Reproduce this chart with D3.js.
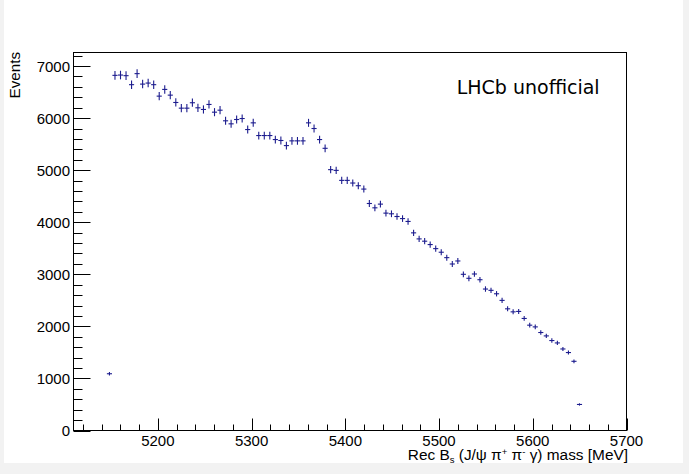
<!DOCTYPE html>
<html>
<head>
<meta charset="utf-8">
<script src="https://cdn.jsdelivr.net/npm/d3@7"></script>
<style>
  html, body { margin: 0; padding: 0; background: #f2f2f2; }
  svg { display: block; }
</style>
</head>
<body>
<svg id="chart" width="689" height="474"></svg>
<script>
// Histogram definition (x axis range and binning)
const histRange = [5110, 5700];
const nBins = 100;
const firstFilledBin = 6;
// Bin contents (Events) starting at bin index firstFilledBin
const counts = [
  1090,
  6821, 6827, 6815, 6642, 6854, 6653, 6673, 6642, 6422, 6551,
  6441, 6300, 6191, 6191, 6295, 6198, 6166, 6262, 6114, 6152,
  5948, 5890, 5973, 5992, 5780, 5909, 5665, 5665, 5665, 5588,
  5570, 5472, 5563, 5563, 5563, 5909, 5800, 5588, 5420, 5010,
  4996, 4804, 4804, 4753, 4701, 4637, 4360, 4277, 4348, 4175,
  4162, 4110, 4070, 4015, 3796, 3680, 3636, 3571, 3493, 3424,
  3320, 3198, 3256, 3000, 2923, 3006, 2896, 2717, 2692, 2626,
  2499, 2337, 2279, 2287, 2152, 2023, 1990, 1882, 1817, 1728,
  1682, 1566, 1497, 1329, 500
];
const yMax = 7260;
const xMajorTicks = [5200, 5300, 5400, 5500, 5600, 5700];
const yMajorTicks = [0, 1000, 2000, 3000, 4000, 5000, 6000, 7000];
const yTitle = "Events";
const label = "LHCb unofficial";

const svg = d3.select("#chart");
const frame = { left: 73.5, right: 626.5, top: 52.5, bottom: 430.5 };
const color = "#1c1c8e";
const font = "'Liberation Sans', Arial, Helvetica, sans-serif";

svg.append("rect").attr("x", 4).attr("y", 0).attr("width", 679).attr("height", 463).attr("fill", "#ffffff");

const x = d3.scaleLinear().domain(histRange).range([frame.left, frame.right]);
const y = d3.scaleLinear().domain([0, yMax]).range([frame.bottom, frame.top]);

const binW = (histRange[1] - histRange[0]) / nBins;
const data = counts.map((c, i) => {
  const b = firstFilledBin + i;
  const lo = histRange[0] + b * binW;
  return { lo: lo, hi: lo + binW, c: lo + binW / 2, v: c, e: Math.sqrt(c) };
});

// Data crosses
const g = svg.append("g").attr("stroke", color).attr("stroke-width", 1.1).attr("fill", "none");
g.selectAll("line.h").data(data).join("line").attr("class", "h")
  .attr("x1", d => x(d.lo) + 0.2).attr("x2", d => x(d.hi) - 0.2)
  .attr("y1", d => y(d.v)).attr("y2", d => y(d.v));
g.selectAll("line.v").data(data).join("line").attr("class", "v")
  .attr("x1", d => x(d.c)).attr("x2", d => x(d.c))
  .attr("y1", d => y(d.v + d.e)).attr("y2", d => y(d.v - d.e));

// Frame
svg.append("rect").attr("x", frame.left).attr("y", frame.top)
  .attr("width", frame.right - frame.left).attr("height", frame.bottom - frame.top)
  .attr("fill", "none").attr("stroke", "#000").attr("stroke-width", 1);

// X axis ticks
const xMinor = d3.range(5120, 5701, 20);
const xAxisG = svg.append("g").attr("stroke", "#000").attr("stroke-width", 1);
xAxisG.selectAll("line.minor").data(xMinor.filter(v => !xMajorTicks.includes(v))).join("line")
  .attr("x1", d => Math.round(x(d)) + 0.5).attr("x2", d => Math.round(x(d)) + 0.5)
  .attr("y1", frame.bottom).attr("y2", frame.bottom - 6);
xAxisG.selectAll("line.major").data(xMajorTicks).join("line")
  .attr("x1", d => Math.round(x(d)) + 0.5).attr("x2", d => Math.round(x(d)) + 0.5)
  .attr("y1", frame.bottom).attr("y2", frame.bottom - 12);
svg.append("g").selectAll("text").data(xMajorTicks).join("text")
  .attr("x", d => x(d)).attr("y", 446)
  .attr("text-anchor", "middle").attr("font-family", font).attr("font-size", 15)
  .attr("fill", "#000").text(d => d);

// Y axis ticks
const yMinor = d3.range(0, 7201, 200);
const yAxisG = svg.append("g").attr("stroke", "#000").attr("stroke-width", 1);
yAxisG.selectAll("line.minor").data(yMinor.filter(v => !yMajorTicks.includes(v))).join("line")
  .attr("y1", d => Math.round(y(d)) + 0.5).attr("y2", d => Math.round(y(d)) + 0.5)
  .attr("x1", frame.left).attr("x2", frame.left + 9);
yAxisG.selectAll("line.major").data(yMajorTicks).join("line")
  .attr("y1", d => Math.round(y(d)) + 0.5).attr("y2", d => Math.round(y(d)) + 0.5)
  .attr("x1", frame.left).attr("x2", frame.left + 17);
svg.append("g").selectAll("text").data(yMajorTicks).join("text")
  .attr("x", 70).attr("y", d => y(d) + 5.5)
  .attr("text-anchor", "end").attr("font-family", font).attr("font-size", 15)
  .attr("fill", "#000").text(d => d);

// X title with sub/superscripts
const xt = svg.append("text").attr("x", 628).attr("y", 460)
  .attr("text-anchor", "end").attr("font-family", font).attr("font-size", 15.4).attr("fill", "#000");
xt.append("tspan").text("Rec B");
xt.append("tspan").attr("font-size", 9.5).attr("dy", 3).text("s");
xt.append("tspan").attr("dy", -3).text(" (J/ψ π");
xt.append("tspan").attr("font-size", 9.5).attr("dy", -5).text("+");
xt.append("tspan").attr("dy", 5).text(" π");
xt.append("tspan").attr("font-size", 9.5).attr("dy", -5).text("-");
xt.append("tspan").attr("dy", 5).text(" γ) mass [MeV]");

// Y title
svg.append("text").attr("transform", "translate(20,52) rotate(-90)")
  .attr("text-anchor", "end").attr("font-family", font).attr("font-size", 15.2)
  .attr("fill", "#000").text(yTitle);

// Label
svg.append("text").attr("x", 456.7).attr("y", 94.3)
  .attr("font-family", "'DejaVu Sans', sans-serif").attr("font-size", 19)
  .attr("fill", "#000").text(label);
</script>
</body>
</html>
